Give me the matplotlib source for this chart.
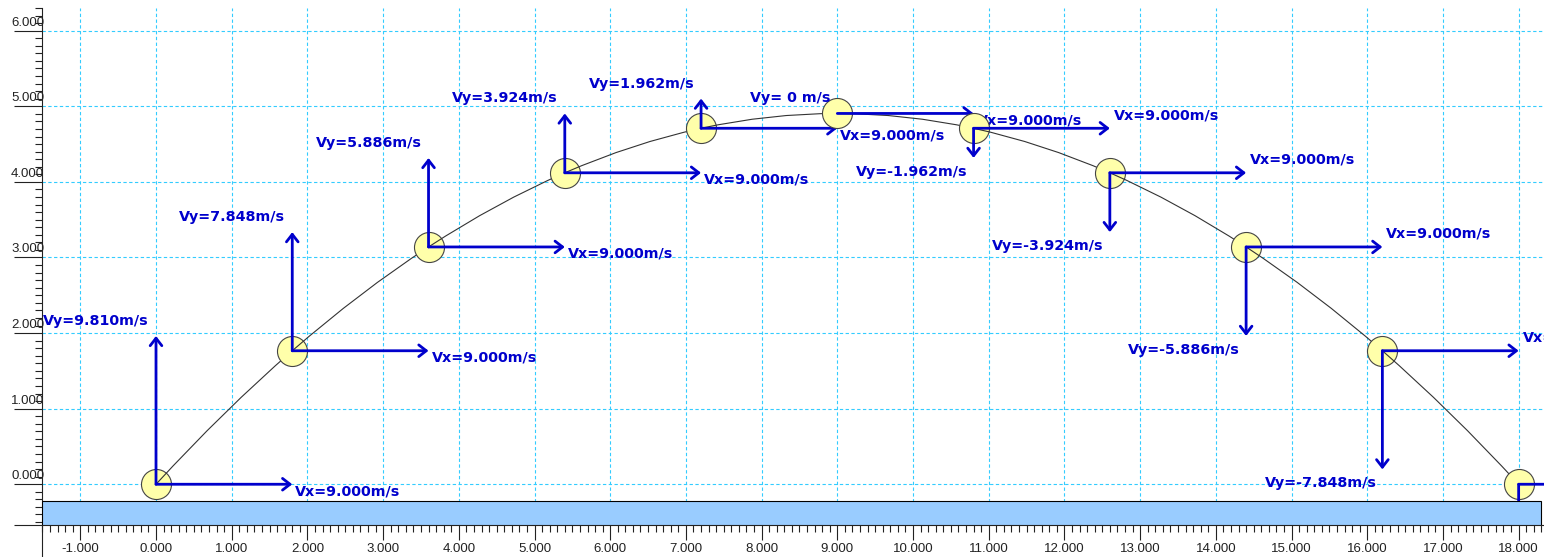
import matplotlib
matplotlib.use("Agg")
import matplotlib.pyplot as plt
from matplotlib.patches import FancyArrowPatch, PathPatch, Rectangle
from matplotlib.path import Path
from matplotlib.lines import Line2D
from matplotlib.ticker import MultipleLocator, FormatStrFormatter

# projectile snapshots, one every 0.2 s
dt = 0.2
ball_x = [0.0, 1.8, 3.6, 5.4, 7.2, 9.0, 10.8, 12.6, 14.4, 16.2, 18.0]
ball_y = [0.000, 1.766, 3.139, 4.120, 4.709, 4.905, 4.709, 4.120, 3.139, 1.766, 0.000]
vx = [9.0, 9.0, 9.0, 9.0, 9.0, 9.0, 9.0, 9.0, 9.0, 9.0, 9.0]
vy = [9.810, 7.848, 5.886, 3.924, 1.962, 0.0, -1.962, -3.924, -5.886, -7.848, -9.810]

x_ticks = list(range(-1, 19))
y_ticks = list(range(0, 7))

xmin, xmax = -1.502, 18.335
ymin, ymax = -0.539, 6.30
ground_top = -0.221
ground_right = 18.30

blue = "#0000cc"
grid_col = "#33ccff"
ball_col = "#ffffaa"

fig = plt.figure(figsize=(15.44, 5.57), dpi=100)
ax = fig.add_axes([42.3 / 1544, 32 / 557, (1544 - 42.3) / 1544, 517 / 557])
ax.set_xlim(xmin, xmax)
ax.set_ylim(ymin, ymax)

for s in ["top", "right"]:
    ax.spines[s].set_visible(False)
for s in ["left", "bottom"]:
    ax.spines[s].set_color("#222222")
    ax.spines[s].set_linewidth(0.8)

# left axis line runs down past the x axis
ax.add_line(Line2D([0, 0], [-32 / 517, 0], transform=ax.transAxes,
                   color="#222222", lw=0.8, clip_on=False))

ax.set_xticks(x_ticks)
ax.xaxis.set_minor_locator(MultipleLocator(0.1))
ax.xaxis.set_major_formatter(FormatStrFormatter("%.3f"))
ax.set_yticks([ymin] + y_ticks)
ax.yaxis.set_minor_locator(MultipleLocator(0.1))
ax.tick_params(axis="x", which="major", length=10.8, width=0.8, pad=2,
               labelsize=9.5, colors="#222222")
ax.tick_params(axis="x", which="minor", length=5, width=0.8, colors="#222222")
ax.tick_params(axis="y", which="major", length=20, width=0.8, labelleft=False,
               colors="#222222")
ax.tick_params(axis="y", which="minor", length=5, width=0.8, colors="#222222")
for lab in ax.get_xticklabels():
    lab.set_fontfamily("Liberation Sans")

# y labels sit on top of the long tick lines
for v in y_ticks:
    ax.annotate("%.3f" % v, xy=(0, v), xycoords=("axes fraction", "data"),
                xytext=(2, 2), textcoords="offset pixels", ha="right", va="bottom",
                fontsize=9.5, family="Liberation Sans", color="#222222",
                annotation_clip=False)

# dashed grid
for gx in x_ticks:
    ax.axvline(gx, color=grid_col, lw=0.8, ls=(0, (3, 2.2)), zorder=1)
for gy in y_ticks:
    ax.axhline(gy, color=grid_col, lw=0.8, ls=(0, (3, 2.2)), zorder=1)

# ground strip
ax.add_patch(Rectangle((xmin, ymin), ground_right - xmin, ground_top - ymin,
                       facecolor="#99ccff", edgecolor="black", lw=0.8, zorder=100))


def vtext(name, v):
    if v == 0:
        return "%s= 0 m/s" % name
    return "%s=%.3fm/s" % (name, v)


def arrow(x0, y0, x1, y1, z):
    a = FancyArrowPatch((x0, y0), (x1, y1),
                        arrowstyle="->,head_length=0.45,head_width=0.35",
                        mutation_scale=12, lw=2, color=blue,
                        shrinkA=0, shrinkB=0, zorder=z)
    ax.add_patch(a)


lab_kw = dict(textcoords="offset pixels", fontsize=10.3, fontweight="bold",
              color=blue, annotation_clip=True)

n = len(ball_x)
for i in range(n):
    z = 10 + 3 * i
    x, y = ball_x[i], ball_y[i]
    ax.scatter([x], [y], s=467, facecolor=ball_col, edgecolor="#444444",
               linewidth=0.8, zorder=z)

    # path piece to the next snapshot
    if i < n - 1:
        verts = [(x, y), (x + vx[i] * dt / 2, y + vy[i] * dt / 2),
                 (ball_x[i + 1], ball_y[i + 1])]
        seg = Path(verts, [Path.MOVETO, Path.CURVE3, Path.CURVE3])
        ax.add_patch(PathPatch(seg, facecolor="none", edgecolor="#333333",
                               lw=0.8, zorder=z + 0.5))

    # velocity components
    tx, ty = x + vx[i] * dt, y
    arrow(x, y, tx, ty, z + 1)
    ux, uy = x, y + vy[i] * dt
    if vy[i] != 0:
        arrow(x, y, ux, uy, z + 1)

    if vy[i] >= 0:
        ax.annotate(vtext("Vx", vx[i]), xy=(tx, ty), xytext=(3, 0),
                    ha="left", va="top", zorder=z + 2, **lab_kw)
        ax.annotate(vtext("Vy", vy[i]), xy=(ux, uy), xytext=(-7, 8),
                    ha="right", va="bottom", zorder=z + 2, **lab_kw)
    else:
        ax.annotate(vtext("Vx", vx[i]), xy=(tx, ty), xytext=(4, 6),
                    ha="left", va="bottom", zorder=z + 2, **lab_kw)
        ax.annotate(vtext("Vy", vy[i]), xy=(ux, uy), xytext=(-6, -7),
                    ha="right", va="top", zorder=z + 2, **lab_kw)

fig.savefig("out.png", dpi=100)
